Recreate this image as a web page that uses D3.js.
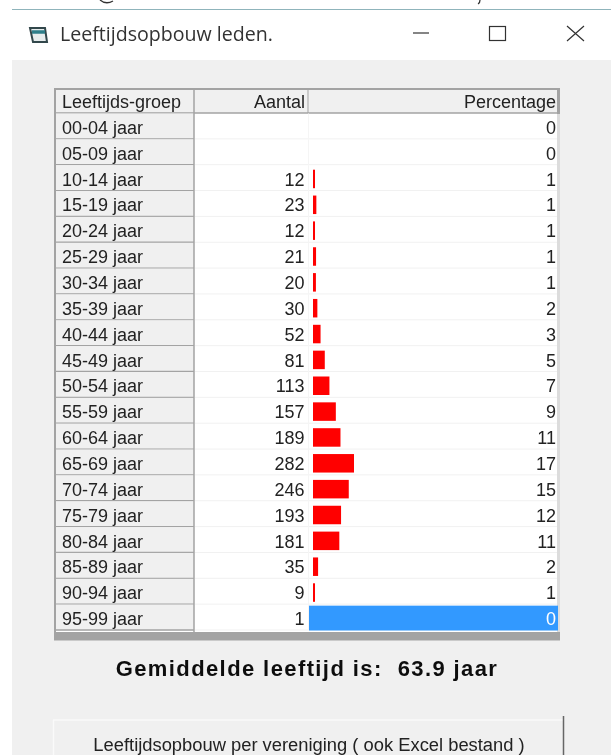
<!DOCTYPE html>
<html>
<head>
<meta charset="utf-8">
<script src="https://cdn.jsdelivr.net/npm/d3@7"></script>
<style>
  html, body { margin: 0; padding: 0; background: #fff; }
  svg { display: block; }
  text { font-family: "Liberation Sans", sans-serif; fill: #222; }
</style>
</head>
<body>
<div id="chart"></div>
<script>
const groups = ['00-04 jaar', '05-09 jaar', '10-14 jaar', '15-19 jaar', '20-24 jaar',
  '25-29 jaar', '30-34 jaar', '35-39 jaar', '40-44 jaar', '45-49 jaar', '50-54 jaar',
  '55-59 jaar', '60-64 jaar', '65-69 jaar', '70-74 jaar', '75-79 jaar', '80-84 jaar',
  '85-89 jaar', '90-94 jaar', '95-99 jaar'];
const counts = [null, null, 12, 23, 12, 21, 20, 30, 52, 81, 113, 157, 189, 282, 246, 193, 181, 35, 9, 1];
const percentages = [0, 0, 1, 1, 1, 1, 1, 2, 3, 5, 7, 9, 11, 17, 15, 12, 11, 2, 1, 0];
const columnTitles = ['Leeftijds-groep', 'Aantal', 'Percentage'];
const selectedGroup = '95-99 jaar';

const width = 611;
const height = 755;

const svg = d3.select('#chart').append('svg')
  .attr('width', width)
  .attr('height', height);

// slight blur, the reference is an enlarged screenshot
const defs = svg.append('defs');
defs.append('filter').attr('id', 'soft')
  .append('feGaussianBlur').attr('stdDeviation', 0.4);

const root = svg.append('g').attr('filter', 'url(#soft)');

// window
root.append('rect').attr('width', width).attr('height', height).attr('fill', '#fff');
root.append('rect').attr('x', 12).attr('y', 60).attr('width', width - 12).attr('height', height - 60).attr('fill', '#f0f0f0');
root.append('line').attr('x1', 12).attr('x2', width).attr('y1', 9.5).attr('y2', 9.5)
  .attr('stroke', '#8fb4bb').attr('stroke-width', 1);

// bits of the page line that is cut off above the window
root.append('path').attr('d', 'M100 0 Q106 5 113 1 M480 0 Q480 3 478 4')
  .attr('fill', 'none').attr('stroke', '#333').attr('stroke-width', 1.3);

// title bar
const icon = root.append('g').attr('fill', 'none').attr('stroke', '#33474b');
icon.append('path').attr('d', 'M30 28 H45 L47 42 H33 Z').attr('fill', '#e6eced').attr('stroke-width', 2);
icon.append('path').attr('d', 'M32 32 H45').attr('stroke', '#2f7f8a').attr('stroke-width', 3.5);
root.append('text').attr('x', 60).attr('y', 41).attr('font-size', 19.6)
  .style('font-family', '"Open Sans"').style('fill', '#333').text('Leeftijdsopbouw leden.');
const winButtons = root.append('g').attr('stroke', '#333').attr('fill', 'none').attr('stroke-width', 1.2);
winButtons.append('line').attr('x1', 413).attr('x2', 429).attr('y1', 33).attr('y2', 33);
winButtons.append('rect').attr('x', 489.5).attr('y', 26.5).attr('width', 16).attr('height', 14);
winButtons.append('path').attr('d', 'M567 26 L584 41 M584 26 L567 41');

// table
const rowScale = d3.scaleBand().domain(groups).range([113.5, 630.5]);
const barX = d3.scaleLinear().domain([0, 282]).range([313, 354]);
const fontSize = 18;
const gridGrey = '#a3a3a3';

root.append('rect').attr('x', 54).attr('y', 88).attr('width', 506).attr('height', 552.5).attr('fill', gridGrey);
root.append('rect').attr('x', 557).attr('y', 114).attr('width', 3).attr('height', 518).attr('fill', '#dcdcdc');
root.append('rect').attr('x', 56).attr('y', 90).attr('width', 501).attr('height', 542).attr('fill', '#fff');

// header
root.append('rect').attr('x', 56).attr('y', 90).attr('width', 501).attr('height', 23).attr('fill', '#f0f0f0');
root.append('line').attr('x1', 56).attr('x2', 557).attr('y1', 113).attr('y2', 113).attr('stroke', gridGrey).attr('stroke-width', 1.5);
root.append('line').attr('x1', 308).attr('x2', 308).attr('y1', 90).attr('y2', 113).attr('stroke', gridGrey);
root.append('text').attr('x', 62).attr('y', 108).attr('font-size', fontSize).text(columnTitles[0]);
root.append('text').attr('x', 305).attr('y', 108).attr('font-size', fontSize).attr('text-anchor', 'end').text(columnTitles[1]);
root.append('text').attr('x', 556).attr('y', 108).attr('font-size', fontSize).attr('text-anchor', 'end').text(columnTitles[2]);

const rows = root.selectAll('.row')
  .data(groups.map((g, i) => ({ group: g, count: counts[i], pct: percentages[i] })))
  .enter().append('g')
  .attr('class', 'row')
  .attr('transform', (d) => `translate(0,${rowScale(d.group)})`);

const rh = rowScale.bandwidth();
const textY = rh / 2 + 7.5;

rows.append('rect').attr('x', 56).attr('width', 138).attr('height', rh).attr('fill', '#f0f0f0');
rows.append('line').attr('x1', 56).attr('x2', 194).attr('y1', rh - 0.5).attr('y2', rh - 0.5).attr('stroke', gridGrey).attr('stroke-width', 1.3);
rows.append('line').attr('x1', 195).attr('x2', 557).attr('y1', rh - 0.5).attr('y2', rh - 0.5).attr('stroke', '#f1f1f1');
rows.append('line').attr('x1', 308.5).attr('x2', 308.5).attr('y1', 0).attr('y2', rh).attr('stroke', '#f5f5f5');

// first column border goes over the row backgrounds
root.append('line').attr('x1', 194).attr('x2', 194).attr('y1', 90).attr('y2', 632).attr('stroke', gridGrey).attr('stroke-width', 1.5);

// selected cell
rows.filter((d) => d.group === selectedGroup).append('rect')
  .attr('x', 309).attr('y', 1).attr('width', 249).attr('height', rh - 1).attr('fill', '#3399ff');

// bars, the selected row hides its bar
rows.filter((d) => d.count !== null && d.group !== selectedGroup).append('rect')
  .attr('x', barX(0))
  .attr('y', 4.5)
  .attr('width', (d) => Math.max(barX(d.count) - barX(0), 2))
  .attr('height', 18.5)
  .attr('fill', '#ff0000');

rows.append('text').attr('x', 62).attr('y', textY).attr('font-size', fontSize).text((d) => d.group);
rows.append('text').attr('x', 304.5).attr('y', textY).attr('font-size', fontSize).attr('text-anchor', 'end')
  .text((d) => (d.count === null ? '' : d.count));
rows.append('text').attr('x', 556).attr('y', textY).attr('font-size', fontSize).attr('text-anchor', 'end')
  .style('fill', (d) => (d.group === selectedGroup ? '#fff' : '#222'))
  .text((d) => d.pct);

// average
root.append('text').attr('x', 307).attr('y', 676).attr('text-anchor', 'middle')
  .attr('font-size', 22).attr('font-weight', 'bold').attr('letter-spacing', 1.4)
  .attr('xml:space', 'preserve').style('white-space', 'pre').style('fill', '#111')
  .text('Gemiddelde leeftijd is:  63.9 jaar');

// button
root.append('line').attr('x1', 53).attr('x2', 563).attr('y1', 720).attr('y2', 720).attr('stroke', '#fafafa').attr('stroke-width', 1.5);
root.append('line').attr('x1', 53.5).attr('x2', 53.5).attr('y1', 720).attr('y2', height).attr('stroke', '#fafafa').attr('stroke-width', 1.5);
root.append('line').attr('x1', 563.5).attr('x2', 563.5).attr('y1', 716).attr('y2', height).attr('stroke', '#666').attr('stroke-width', 1.5);
root.append('text').attr('x', 309).attr('y', 751).attr('text-anchor', 'middle').attr('font-size', 18.35)
  .text('Leeftijdsopbouw per vereniging ( ook Excel bestand )');
</script>
</body>
</html>
